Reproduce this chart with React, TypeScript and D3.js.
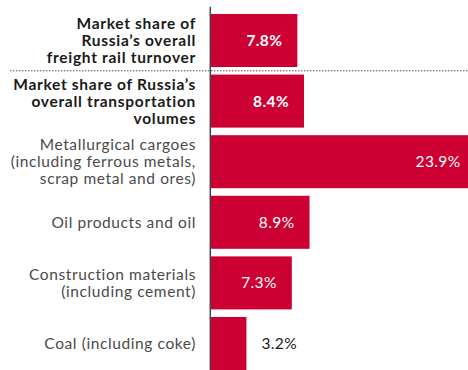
import React from "react";
import * as d3 from "d3";

const categories: string[][] = [
  ["Market share of", "Russia\u2019s overall", "freight rail turnover"],
  ["Market share of Russia\u2019s", "overall transportation", "volumes"],
  ["Metallurgical cargoes", "(including ferrous metals,", "scrap metal and ores)"],
  ["Oil products and oil"],
  ["Construction materials", "(including cement)"],
  ["Coal (including coke)"],
];
const values: number[] = [7.8, 8.4, 23.9, 8.9, 7.3, 3.2];
const valueLabels: string[] = ["7.8%", "8.4%", "23.9%", "8.9%", "7.3%", "3.2%"];
const emphasized: boolean[] = [true, true, false, false, false, false];

const W = 468;
const H = 370;
const RED = "#cc0033";
const FONT = "Lato, 'Open Sans', sans-serif";

export default function App() {
  const ids = categories.map((_, i) => String(i));
  const x = d3.scaleLinear().domain([0, 24]).range([211, 211 + 11.07 * 24]);
  const y = d3.scaleBand<string>().domain(ids).range([6.4, 377.6]).padding(0.125);
  const bw = y.bandwidth();
  const step = y.step();
  const sepY = (y("0") as number) + bw + (step - bw) / 2;
  const lineH = 17;

  return (
    <svg
      width={W}
      height={H}
      style={{ position: "fixed", left: 0, top: 0, background: "#fff" }}
      fontFamily={FONT}
    >
      {ids.map((id, i) => {
        const y0 = y(id) as number;
        const cy = y0 + bw / 2;
        const xr = x(values[i]);
        const inside = xr - x(0) > 60;
        const lines = categories[i];
        const n = lines.length;
        return (
          <g key={id}>
            <rect x={x(0)} y={y0} width={xr - x(0)} height={bw} fill={RED} />
            <text
              x={inside ? xr - 15 : xr + 15}
              y={cy}
              dy="0.36em"
              textAnchor={inside ? "end" : "start"}
              fill={inside ? "#fff" : "#1a1a1a"}
              fontSize={15.5}
              letterSpacing={0.4}
              fontWeight={emphasized[i] ? 700 : 400}
            >
              {valueLabels[i]}
            </text>
            <text
              textAnchor="end"
              fontSize={15.5}
              letterSpacing={emphasized[i] ? 0.7 : 0.6}
              fontWeight={emphasized[i] ? 700 : 400}
              fill={emphasized[i] ? "#1a1a1a" : "#4a4a4a"}
            >
              {lines.map((l, k) => (
                <tspan key={k} x={196} y={cy + (k - (n - 1) / 2) * lineH} dy="0.35em">
                  {l}
                </tspan>
              ))}
            </text>
          </g>
        );
      })}
      <line x1={10} x2={W} y1={sepY} y2={sepY} stroke="#555" strokeWidth={1} strokeDasharray="1.5,1.5" />
      <line x1={210.3} x2={210.3} y1={6.7} y2={H} stroke="#444" strokeWidth={1.5} />
    </svg>
  );
}
